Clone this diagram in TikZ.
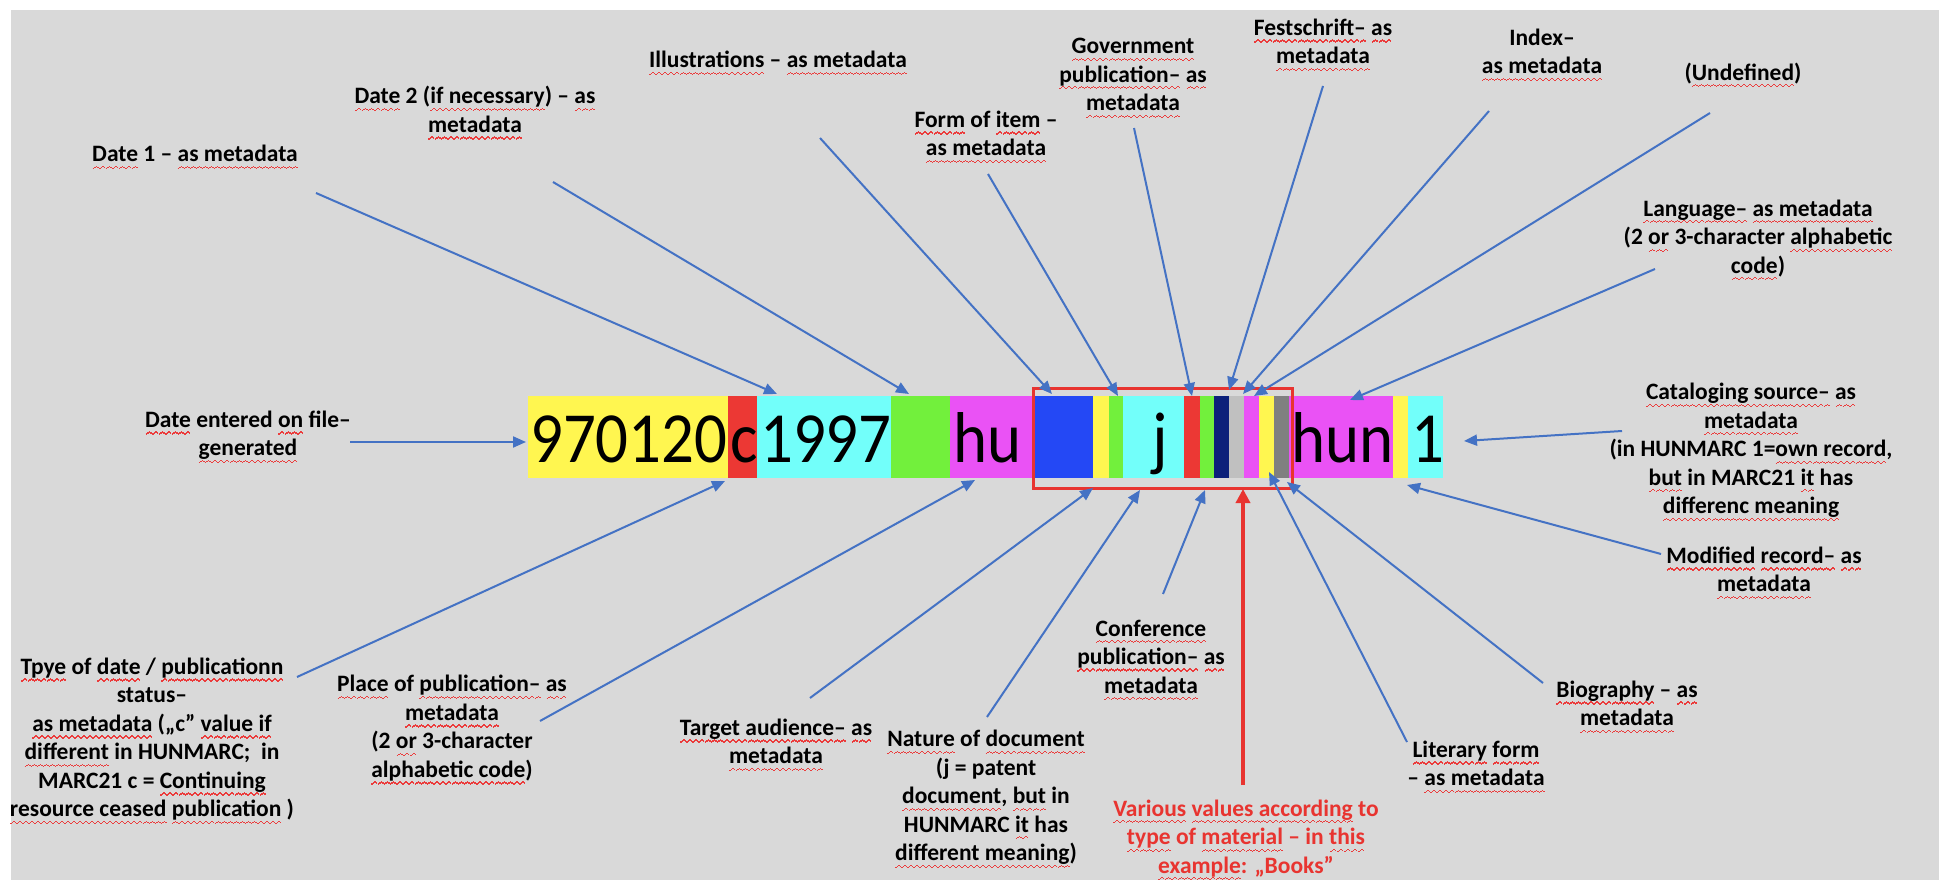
\documentclass[tikz,border=0pt]{standalone}
\usepackage{fontspec}
\setmainfont{Carlito}
\newfontfamily\barfont[FakeStretch=0.9]{Carlito}
\usetikzlibrary{arrows.meta}
\definecolor{bggray}{RGB}{217,217,217}
\definecolor{cblue}{RGB}{68,114,196}
\definecolor{boxred}{RGB}{232,52,48}
\definecolor{squig}{RGB}{235,60,60}
\definecolor{sYellow}{RGB}{255,246,80}
\definecolor{sRed}{RGB}{236,56,52}
\definecolor{sCyan}{RGB}{114,255,250}
\definecolor{sGreen}{RGB}{114,240,60}
\definecolor{sMag}{RGB}{234,82,245}
\definecolor{sBlue}{RGB}{36,72,245}
\definecolor{sNavy}{RGB}{12,32,122}
\definecolor{sLgray}{RGB}{192,192,192}
\definecolor{sGray}{RGB}{128,128,128}
\newsavebox\wavebox
\newsavebox\rwtmp
\newcommand{\rw}[1]{\sbox\rwtmp{#1}\rlap{\lower6pt\hbox to\wd\rwtmp{\xleaders\copy\wavebox\hfill}}\usebox\rwtmp}
\tikzset{
  lab/.style={font=\fontsize{23.5}{28.5}\selectfont\bfseries, align=center, inner sep=0pt, text=black},
  redlab/.style={lab, text=boxred},
  bartxt/.style={font=\barfont\fontsize{72}{80}\selectfont, anchor=base west, inner sep=0pt, text=black},
  conn/.style={draw=cblue, line width=2pt, -{Triangle[length=13pt,width=11pt]}},
  redconn/.style={draw=boxred, line width=3.5pt, -{Triangle[length=14pt,width=14pt]}},
}
\begin{document}
\sbox\wavebox{\color{squig}\rule[-1.2pt]{1.5pt}{1.3pt}\rule[-0.2pt]{1.5pt}{1.3pt}\rule[0.8pt]{1.5pt}{1.3pt}\rule[-0.2pt]{1.5pt}{1.3pt}}%
\begin{tikzpicture}[x=1pt,y=-1pt]
\useasboundingbox (0,0) rectangle (1939,880);
\fill[white] (0,0) rectangle (1939,880);
\fill[bggray] (11,10) rectangle (1939,880);
% bar segments
\fill[sYellow] (528,396) rectangle (728,478);
\fill[sRed] (728,396) rectangle (757,478);
\fill[sCyan] (757,396) rectangle (891,478);
\fill[sGreen] (891,396) rectangle (950,478);
\fill[sMag] (950,396) rectangle (1035,478);
\fill[sBlue] (1035,396) rectangle (1093,478);
\fill[sYellow] (1093,396) rectangle (1109,478);
\fill[sGreen] (1109,396) rectangle (1123,478);
\fill[sCyan] (1123,396) rectangle (1184,478);
\fill[sRed] (1184,396) rectangle (1200,478);
\fill[sGreen] (1200,396) rectangle (1214,478);
\fill[sNavy] (1214,396) rectangle (1229,478);
\fill[sLgray] (1229,396) rectangle (1244,478);
\fill[sMag] (1244,396) rectangle (1259,478);
\fill[sYellow] (1259,396) rectangle (1274,478);
\fill[sGray] (1274,396) rectangle (1289,478);
\fill[sMag] (1289,396) rectangle (1393,478);
\fill[sYellow] (1393,396) rectangle (1408,478);
\fill[sCyan] (1408,396) rectangle (1443,478);
% bar texts
\node[bartxt] (t1) at (530,462) {970120};
\node[bartxt] (t2) at (730,462) {c};
\node[bartxt] (t3) at (760,462) {1997};
\node[bartxt] (t4) at (953,462) {hu};
\node[bartxt] (t5) at (1152,462) {j};
\node[bartxt] (t6) at (1291,462) {hun};
\node[bartxt] (t7) at (1411,462) {1};
% red frame
\draw[boxred, line width=3pt] (1033,388) rectangle (1292,488);
% labels
\node[lab] (d1) at (195,157) {\rw{Date} 1 – \rw{as metadata}};
\node[lab] (d2) at (475,113) {\rw{Date} 2 (\rw{if necessary}) – \rw{as}\\ \rw{metadata}};
\node[lab] (ill) at (778,63) {\rw{Illustrations} – \rw{as metadata}};
\node[lab] (form) at (986,137) {\rw{Form} of \rw{item} –\\ \rw{as metadata}};
\node[lab] (gov) at (1133,78) {\rw{Government}\\ \rw{publication–} \rw{as}\\ \rw{metadata}};
\node[lab] (fest) at (1323,45) {\rw{Festschrift–} \rw{as}\\ \rw{metadata}};
\node[lab] (idx) at (1542,55) {Index–\\ \rw{as metadata}};
\node[lab] (undef) at (1743,75) {(\rw{Undefined})};
\node[lab] (lang) at (1758,240) {\rw{Language–} \rw{as metadata}\\ (2 \rw{or} 3-character \rw{alphabetic}\\ \rw{code})};
\node[lab] (cat) at (1751,452) {\rw{Cataloging source–} \rw{as}\\ \rw{metadata}\\ (in HUNMARC 1=\rw{own record},\\ \rw{but} in MARC21 \rw{it} has\\ \rw{differenc meaning}};
\node[lab] (mod) at (1764,573) {\rw{Modified} \rw{record–} \rw{as}\\ \rw{metadata}};
\node[lab] (bio) at (1627,707) {\rw{Biography} – \rw{as}\\ \rw{metadata}};
\node[lab] (lit) at (1476,767) {\rw{Literary} \rw{form}\\ – \rw{as metadata}};
\node[lab] (conf) at (1151,660) {\rw{Conference}\\ \rw{publication–} \rw{as}\\ \rw{metadata}};
\node[redlab] (red) at (1246,840) {\rw{Various} \rw{values according} to\\ \rw{type} of \rw{material} – in \rw{this}\\ \rw{example}: „Books”};
\node[lab] (nat) at (986,799) {\rw{Nature} of \rw{document}\\ (j = patent\\ \rw{document}, \rw{but} in\\ HUNMARC \rw{it} has\\ \rw{different meaning})};
\node[lab] (targ) at (776,745) {\rw{Target audience–} \rw{as}\\ \rw{metadata}};
\node[lab] (place) at (452,730) {\rw{Place} of \rw{publication–} \rw{as}\\ \rw{metadata}\\ (2 \rw{or} 3-character\\ \rw{alphabetic code})};
\node[lab] (tpye) at (152,741) {\rw{Tpye} of \rw{date} / \rw{publicationn}\\ status–\\ \rw{as metadata} („c” \rw{value if}\\ \rw{different} in HUNMARC;~ in\\ MARC21 c = \rw{Continuing}\\ \rw{resource ceased} \rw{publication} )};
\node[lab] (dent) at (248,437) {\rw{Date} entered \rw{on} file–\\ \rw{generated}};
% connector endpoints
\coordinate (d1s) at (316,193);   \coordinate (d1t) at (777,394);
\coordinate (d2s) at (553,182);   \coordinate (d2t) at (909,394);
\coordinate (ills) at (820,138);  \coordinate (illt) at (1052,394);
\coordinate (forms) at (988,174); \coordinate (formt) at (1118,396);
\coordinate (govs) at (1134,128); \coordinate (govt) at (1192,396);
\coordinate (fests) at (1323,86); \coordinate (festt) at (1229,390);
\coordinate (idxs) at (1489,111); \coordinate (idxt) at (1243,394);
\coordinate (undefs) at (1710,113); \coordinate (undeft) at (1254,396);
\coordinate (langs) at (1655,269); \coordinate (langt) at (1350,400);
\coordinate (cats) at (1622,431); \coordinate (catt) at (1464,441);
\coordinate (mods) at (1661,554); \coordinate (modt) at (1407,485);
\coordinate (bios) at (1543,683); \coordinate (biot) at (1287,482);
\coordinate (lits) at (1407,742); \coordinate (litt) at (1269,472);
\coordinate (confs) at (1163,594); \coordinate (conft) at (1205,490);
\coordinate (reds) at (1243,785); \coordinate (redt) at (1243,489);
\coordinate (nats) at (987,717); \coordinate (natt) at (1140,490);
\coordinate (targs) at (810,698); \coordinate (targt) at (1093,488);
\coordinate (places) at (540,721); \coordinate (placet) at (975,480);
\coordinate (tpyes) at (297,677); \coordinate (tpyet) at (725,481);
\coordinate (dents) at (350,442); \coordinate (dentt) at (526,442);
% connectors
\draw[conn] (d1s) -- (d1t);
\draw[conn] (d2s) -- (d2t);
\draw[conn] (ills) -- (illt);
\draw[conn] (forms) -- (formt);
\draw[conn] (govs) -- (govt);
\draw[conn] (fests) -- (festt);
\draw[conn] (idxs) -- (idxt);
\draw[conn] (undefs) -- (undeft);
\draw[conn] (langs) -- (langt);
\draw[conn] (cats) -- (catt);
\draw[conn] (mods) -- (modt);
\draw[conn] (bios) -- (biot);
\draw[conn] (lits) -- (litt);
\draw[conn] (confs) -- (conft);
\draw[conn] (nats) -- (natt);
\draw[conn] (targs) -- (targt);
\draw[conn] (places) -- (placet);
\draw[conn] (tpyes) -- (tpyet);
\draw[conn] (dents) -- (dentt);
\draw[redconn] (reds) -- (redt);
\end{tikzpicture}
\end{document}
